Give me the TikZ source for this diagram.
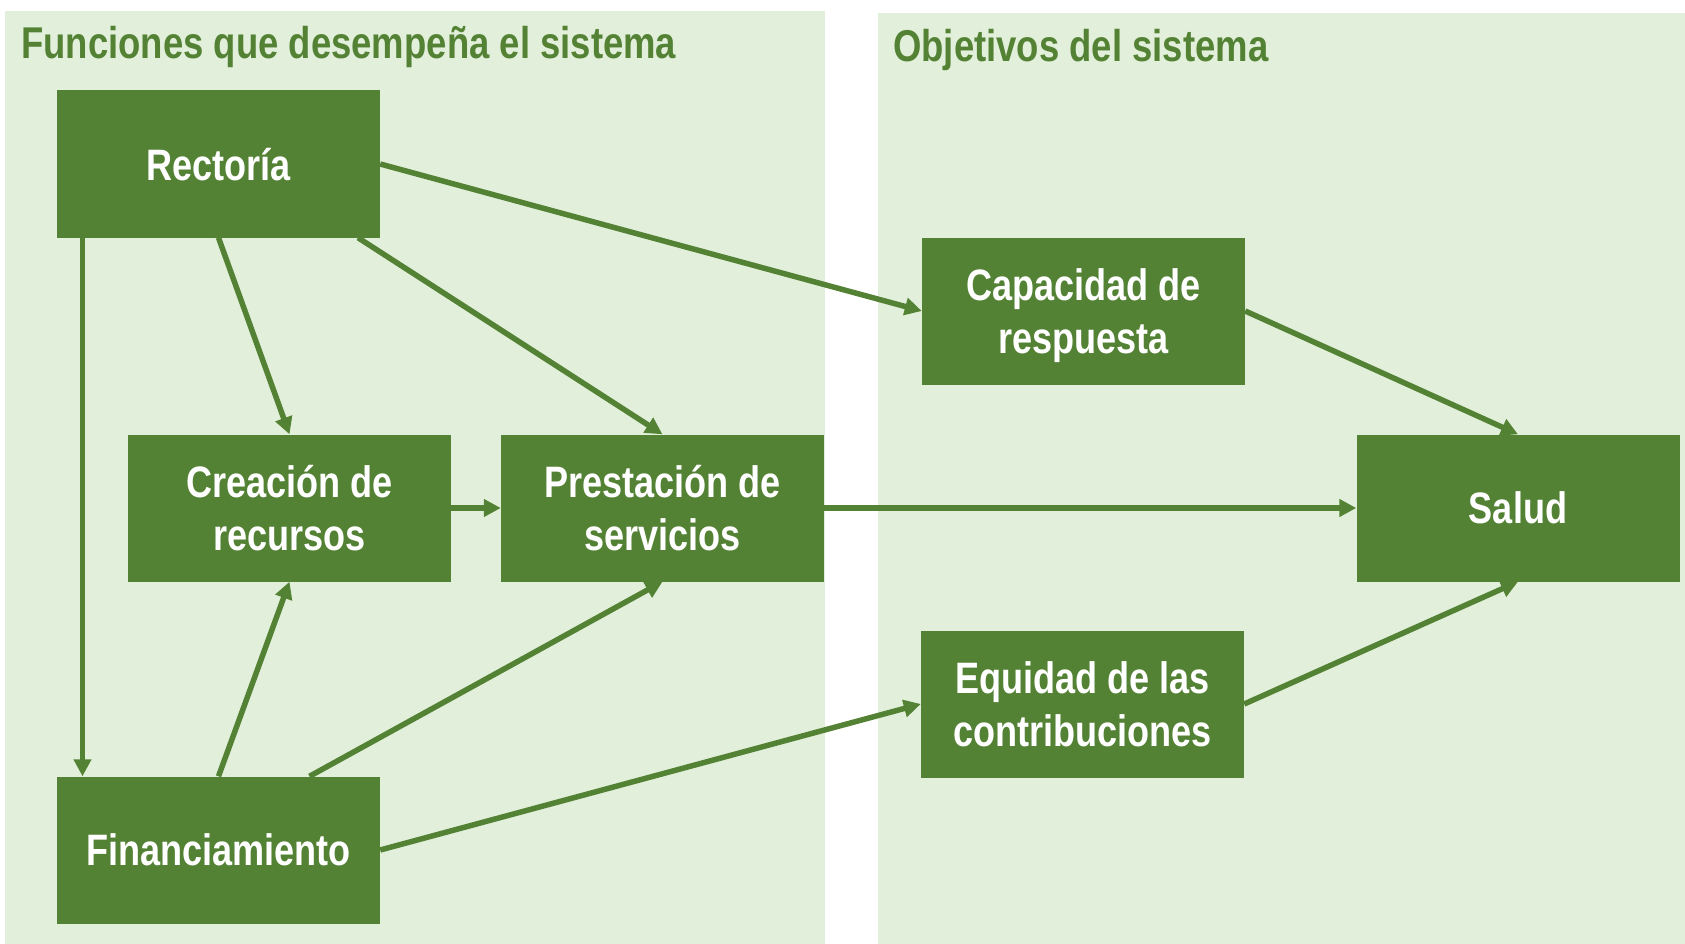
\documentclass[tikz,border=0pt]{standalone}
\usepackage{fontspec}
\newfontfamily\narrowfont{Liberation Sans}[FakeStretch=0.82]
\usetikzlibrary{arrows.meta,calc}

\definecolor{boxgreen}{HTML}{548235}
\definecolor{panelgreen}{HTML}{E2EFDA}

\begin{document}
\begin{tikzpicture}[x=1pt, y=-1pt,
  every edge/.style={draw=boxgreen, line width=5.5pt, -{Triangle[length=17pt,width=17pt]}},
  box/.style={fill=boxgreen, text=white, minimum width=323pt, minimum height=147pt,
    inner sep=0pt, align=center, text depth=0pt,
    font=\narrowfont\bfseries\fontsize{44}{53}\selectfont},
  paneltitle/.style={anchor=base west, inner sep=0pt, text=boxgreen,
    font=\narrowfont\bfseries\fontsize{44.5}{50}\selectfont}]

  \useasboundingbox (0,0) rectangle (1685,944);
  \fill[panelgreen] (5,11) rectangle (825,944);
  \fill[panelgreen] (878,13) rectangle (1685,944);

  \node[paneltitle] (functitle) at (21,59) {Funciones que desempeña el sistema};
  \node[paneltitle] (objtitle) at (893,62) {Objetivos del sistema};

  \node[box] (rect) at (218.5,164) {Rectoría};
  \node[box] (crea) at (289.5,508) {Creación de\\recursos};
  \node[box] (prest) at (662.5,508) {Prestación de\\servicios};
  \node[box] (fin) at (218.5,850) {Financiamiento};
  \node[box] (cap) at (1083.5,311) {Capacidad de\\respuesta};
  \node[box] (equi) at (1082.5,704) {Equidad de las\\contribuciones};
  \node[box] (salud) at (1518,508) {Salud};

  \path (rect.east) edge (cap.west);
  \path (rect.south) edge (crea.north);
  \path ($(rect.south)+(139.5,0)$) edge (prest.north);
  \path ($(rect.south)+(-136,0)$) edge ($(fin.north)+(-136,0)$);
  \path (crea.east) edge (prest.west);
  \path (prest.east) edge (salud.west);
  \path (fin.north) edge (crea.south);
  \path ($(fin.north)+(91,0)$) edge (prest.south);
  \path (fin.east) edge (equi.west);
  \path (cap.east) edge (salud.north);
  \path (equi.east) edge (salud.south);

\end{tikzpicture}
\end{document}
